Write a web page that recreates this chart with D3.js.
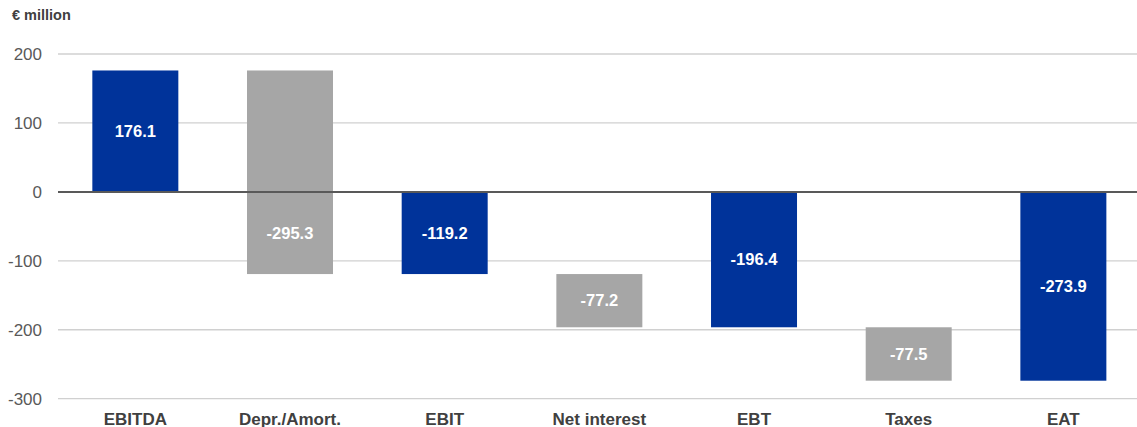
<!DOCTYPE html>
<html>
<head>
<meta charset="utf-8">
<script src="https://cdn.jsdelivr.net/npm/d3@7/dist/d3.min.js"></script>
<style>
  body { margin: 0; background: #fff; }
  svg text { font-family: "Liberation Sans", Arial, sans-serif; }
</style>
</head>
<body>
<div id="main"></div>
<script>
// DATA
const categories = ["EBITDA", "Depr./Amort.", "EBIT", "Net interest", "EBT", "Taxes", "EAT"]
const values     = [176.1, -295.3, -119.2, -77.2, -196.4, -77.5, -273.9]
const isTotal    = [true, false, true, false, true, false, true]
const yTicks     = [200, 100, 0, -100, -200, -300]

const width = 1137
const height = 427

// waterfall start/end for each bar
let running = 0
const bars = categories.map((c, i) => {
    let start, end
    if (isTotal[i]) { start = 0; end = values[i]; running = values[i] }
    else { start = running; end = running + values[i]; running = end }
    return { cat: c, value: values[i], start, end, total: isTotal[i] }
})

// SCALES
const x = d3.scaleBand()
    .domain(categories)
    .range([58, 1140.7])
    .paddingInner(0.444)
    .paddingOuter(0.222)

const y = d3.scaleLinear()
    .domain([-300, 200])
    .range([398.7, 54])

// DRAW
const svg = d3.select("#main").append("svg")
    .attr("width", width)
    .attr("height", height)

svg.append("text")
    .attr("x", 12).attr("y", 20)
    .attr("font-size", 14.5).attr("font-weight", "bold")
    .attr("fill", "#404040")
    .text("€ million")

// gridlines
svg.append("g").selectAll("line")
    .data(yTicks.filter(t => t !== 0))
    .enter().append("line")
        .attr("x1", 58).attr("x2", width)
        .attr("y1", d => y(d)).attr("y2", d => y(d))
        .attr("stroke", "#d0d0d0").attr("stroke-width", 1.3)

// tick labels
svg.append("g").selectAll("text")
    .data(yTicks)
    .enter().append("text")
        .attr("x", 42)
        .attr("y", d => y(d))
        .attr("dy", "0.35em")
        .attr("text-anchor", "end")
        .attr("font-size", 17)
        .attr("fill", "#595959")
        .text(d => d)

// bars
svg.append("g").selectAll("rect")
    .data(bars)
    .enter().append("rect")
        .attr("x", d => x(d.cat))
        .attr("width", x.bandwidth())
        .attr("y", d => y(Math.max(d.start, d.end)))
        .attr("height", d => Math.abs(y(d.start) - y(d.end)))
        .attr("fill", d => d.total ? "#00339a" : "#a6a6a6")

// zero line
svg.append("line")
    .attr("x1", 58).attr("x2", width)
    .attr("y1", y(0)).attr("y2", y(0))
    .attr("stroke", "#595959").attr("stroke-width", 2)

// value labels
svg.append("g").selectAll("text")
    .data(bars)
    .enter().append("text")
        .attr("x", d => x(d.cat) + x.bandwidth() / 2)
        .attr("y", d => {
            let a = d.start, b = d.end
            if (a * b < 0) a = 0
            return y((a + b) / 2)
        })
        .attr("dy", "0.35em")
        .attr("text-anchor", "middle")
        .attr("font-size", 16.5).attr("font-weight", "bold")
        .attr("fill", "#fff")
        .text(d => d.value.toFixed(1))

// category labels
svg.append("g").selectAll("text")
    .data(categories)
    .enter().append("text")
        .attr("x", d => x(d) + x.bandwidth() / 2)
        .attr("y", 424.5)
        .attr("text-anchor", "middle")
        .attr("font-size", 17).attr("font-weight", "bold")
        .attr("fill", "#404040")
        .text(d => d)
</script>
</body>
</html>
